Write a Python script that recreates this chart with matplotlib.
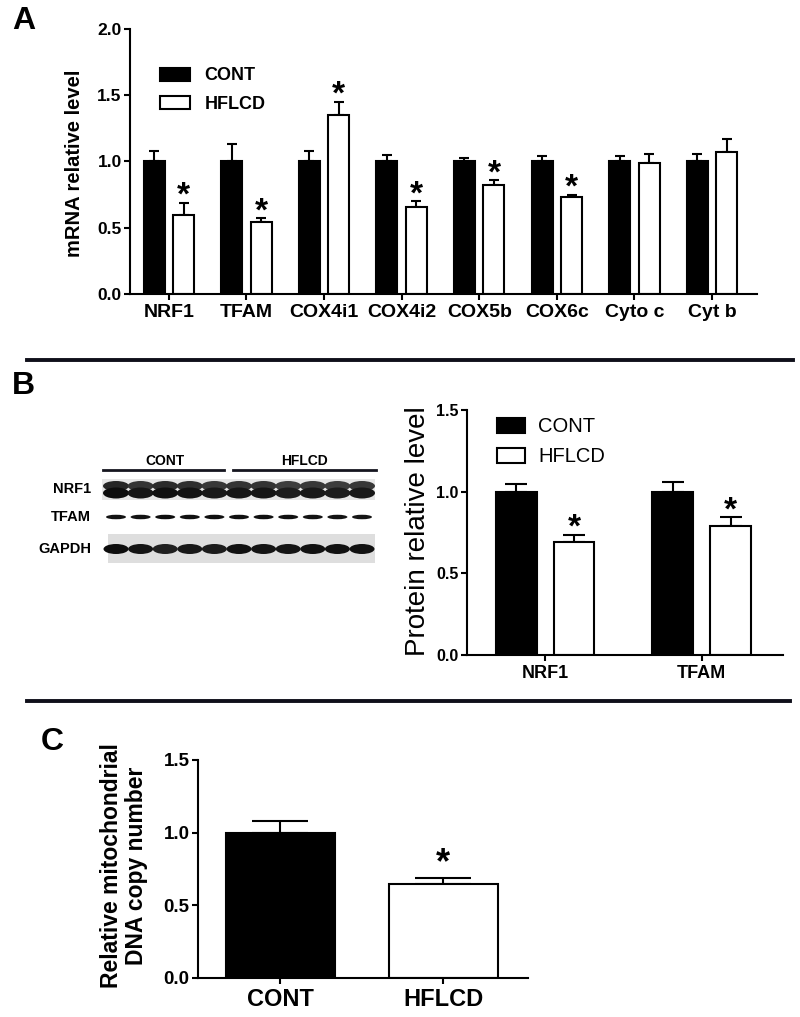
import numpy as np
import matplotlib
matplotlib.use('Agg')
import matplotlib.pyplot as plt
from matplotlib.patches import Rectangle, Ellipse

plt.rcParams['font.family'] = 'Liberation Sans'
plt.rcParams['font.weight'] = 'bold'
plt.rcParams['axes.linewidth'] = 1.5

# Panel A - mRNA levels
genes = ['NRF1', 'TFAM', 'COX4i1', 'COX4i2', 'COX5b', 'COX6c', 'Cyto c', 'Cyt b']
cont_mrna = [1.0, 1.0, 1.0, 1.0, 1.0, 1.0, 1.0, 1.0]
cont_mrna_err = [0.08, 0.13, 0.08, 0.05, 0.03, 0.04, 0.04, 0.06]
hflcd_mrna = [0.60, 0.54, 1.35, 0.66, 0.82, 0.73, 0.99, 1.07]
hflcd_mrna_err = [0.09, 0.03, 0.10, 0.04, 0.04, 0.02, 0.07, 0.10]
mrna_sig = [True, True, True, True, True, True, False, False]

# Panel B - protein levels
proteins = ['NRF1', 'TFAM']
cont_prot = [1.0, 1.0]
cont_prot_err = [0.05, 0.06]
hflcd_prot = [0.69, 0.79]
hflcd_prot_err = [0.045, 0.055]
prot_sig = [True, True]

# western blot band darkness (0-1), 5 CONT lanes + 6 HFLCD lanes
blot_rows = ['NRF1', 'TFAM', 'GAPDH']
nrf1_bands = [1.0, 0.85, 0.95, 0.9, 0.8, 0.85, 0.85, 0.75, 0.8, 0.75, 0.8]
tfam_bands = [0.9, 0.9, 1.0, 0.95, 0.95, 0.95, 0.95, 0.95, 0.9, 0.9, 0.85]
gapdh_bands = [1.0, 0.9, 0.75, 0.85, 0.8, 0.95, 0.9, 0.9, 0.95, 0.95, 0.95]

# Panel C - mtDNA copy number
groups = ['CONT', 'HFLCD']
mtdna = [1.0, 0.65]
mtdna_err = [0.08, 0.035]
mtdna_sig = [False, True]


def style(ax, ytick_size, xtick_size):
    for s in ['top', 'right']:
        ax.spines[s].set_visible(False)
    ax.set_facecolor('none')
    ax.tick_params(width=1.5, length=4, direction='out')
    ax.tick_params(axis='y', labelsize=ytick_size, pad=2)
    ax.tick_params(axis='x', labelsize=xtick_size, pad=3)


def stars(ax, x, tops, sig, size, off):
    for xi, t, s in zip(x, tops, sig):
        if s:
            ax.annotate('*', (xi, t), xytext=(0, off), textcoords='offset points',
                        ha='center', va='baseline', fontsize=size, fontweight='bold')


def paired_bars(ax, x, cont, cont_err, hflcd, hflcd_err, width, offset, capsize):
    ax.bar(x - offset, cont, width, color='black', edgecolor='black', linewidth=1.5,
           label='CONT', zorder=2)
    ax.bar(x + offset, hflcd, width, color='white', edgecolor='black', linewidth=1.5,
           label='HFLCD', zorder=2)
    n = len(x)
    ax.errorbar(x - offset, cont, yerr=[np.zeros(n), cont_err], fmt='none', ecolor='black',
                elinewidth=1.5, capsize=capsize, capthick=1.5, zorder=1)
    ax.errorbar(x + offset, hflcd, yerr=[np.zeros(n), hflcd_err], fmt='none', ecolor='black',
                elinewidth=1.5, capsize=capsize, capthick=1.5, zorder=1)


fig = plt.figure(figsize=(8, 10.17), dpi=100)

# overlay in pixel coordinates for labels, dividers and blot
ov = fig.add_axes([0, 0, 1, 1])
ov.set_xlim(0, 800)
ov.set_ylim(1017, 0)
ov.axis('off')

# ---- Panel A ----
axA = fig.add_axes([0.1625, 0.7109, 0.78375, 0.2606])
xa = np.arange(len(genes))
paired_bars(axA, xa, cont_mrna, cont_mrna_err, hflcd_mrna, hflcd_mrna_err, 0.27, 0.19, 3.6)
stars(axA, xa + 0.19, np.array(hflcd_mrna) + np.array(hflcd_mrna_err), mrna_sig, 24, -1.5)
axA.set_xlim(-0.5, 7.58)
axA.set_ylim(0, 2.0)
axA.set_yticks([0, 0.5, 1.0, 1.5, 2.0])
axA.yaxis.set_major_formatter(matplotlib.ticker.FormatStrFormatter('%.1f'))
axA.set_xticks(xa)
axA.set_xticklabels(genes)
style(axA, 12.5, 14)
axA.legend(loc='upper left', bbox_to_anchor=(0.048, 0.855), frameon=False, fontsize=13,
           handlelength=1.67, handleheight=0.72, handletextpad=0.8, labelspacing=0.62,
           borderpad=0, borderaxespad=0)
ov.text(75, 163, 'mRNA relative level', rotation=90, ha='center', va='center', fontsize=14.5)

# ---- Panel B ----
axB = fig.add_axes([0.58375, 0.35595, 0.395, 0.2409])
xb = np.arange(len(proteins))
paired_bars(axB, xb, cont_prot, cont_prot_err, hflcd_prot, hflcd_prot_err, 0.26, 0.185, 7.9)
stars(axB, xb + 0.185, np.array(hflcd_prot) + np.array(hflcd_prot_err), prot_sig, 24, -1.5)
axB.set_xlim(-0.5, 1.52)
axB.set_ylim(0, 1.5)
axB.set_yticks([0, 0.5, 1.0, 1.5])
axB.yaxis.set_major_formatter(matplotlib.ticker.FormatStrFormatter('%.1f'))
axB.set_xticks(xb)
axB.set_xticklabels(proteins)
style(axB, 11.5, 13)
leg = axB.legend(loc='upper left', bbox_to_anchor=(0.095, 0.97), frameon=False, fontsize=14.5,
                 handlelength=1.4, handleheight=0.75, handletextpad=0.65, labelspacing=0.55,
                 borderpad=0, borderaxespad=0)
for t in leg.get_texts():
    t.set_fontweight('normal')
ov.text(418, 531, 'Protein relative level', rotation=90, ha='center', va='center',
        fontsize=20, fontweight='normal')

# blot
lane_x = 116 + 24.6 * np.arange(len(nrf1_bands))
ov.add_patch(Rectangle((102, 479), 273, 21, color='#e6e6e6', lw=0))
ov.add_patch(Rectangle((108, 534), 267, 29, color='#dedede', lw=0))
for cx, d in zip(lane_x, nrf1_bands):
    ov.add_patch(Ellipse((cx, 486), 26, 10, color=str(0.5 - 0.35 * d), lw=0))
    ov.add_patch(Ellipse((cx, 493), 26, 11, color=str(0.3 - 0.25 * d), lw=0))
for cx, d in zip(lane_x, tfam_bands):
    ov.add_patch(Ellipse((cx, 517), 20, 4.5, color=str(0.3 - 0.25 * d), lw=0))
for cx, d in zip(lane_x, gapdh_bands):
    ov.add_patch(Ellipse((cx, 549), 25, 10, color=str(0.35 - 0.3 * d), lw=0))
for name, yy in zip(blot_rows, [489, 517, 549]):
    ov.text(91, yy, name, ha='right', va='center', fontsize=10.5)
ov.plot([103, 224], [470, 470], color='#15151f', lw=2)
ov.plot([233, 376], [470, 470], color='#15151f', lw=2)
ov.text(165, 461, 'CONT', ha='center', va='center', fontsize=10)
ov.text(305, 461, 'HFLCD', ha='center', va='center', fontsize=10)

# ---- Panel C ----
axC = fig.add_axes([0.2475, 0.03835, 0.4125, 0.2144])
xc = np.arange(len(groups))
axC.bar(xc, mtdna, 0.67, color=['black', 'white'], edgecolor='black', linewidth=1.5, zorder=2)
axC.errorbar(xc, mtdna, yerr=[np.zeros(len(xc)), mtdna_err], fmt='none', ecolor='black',
             elinewidth=1.5, capsize=20, capthick=1.5, zorder=1)
stars(axC, xc, np.array(mtdna) + np.array(mtdna_err), mtdna_sig, 26, 4)
axC.set_xlim(-0.506, 1.52)
axC.set_ylim(0, 1.5)
axC.set_yticks([0, 0.5, 1.0, 1.5])
axC.yaxis.set_major_formatter(matplotlib.ticker.FormatStrFormatter('%.1f'))
axC.set_xticks(xc)
axC.set_xticklabels(groups)
style(axC, 13.5, 17)
ov.text(124, 866, 'Relative mitochondrial\nDNA copy number', rotation=90, ha='center',
        va='center', fontsize=16.5, linespacing=1.15)

# dividers and panel letters
ov.plot([27, 793], [360, 360], color='#0f0f1a', lw=2.8)
ov.plot([27, 790], [701, 701], color='#0f0f1a', lw=2.8)
ov.text(12, 21, 'A', fontsize=23, va='center')
ov.text(12, 386, 'B', fontsize=23, va='center')
ov.text(41, 742, 'C', fontsize=23, va='center')

fig.savefig('out.png', dpi=100)
